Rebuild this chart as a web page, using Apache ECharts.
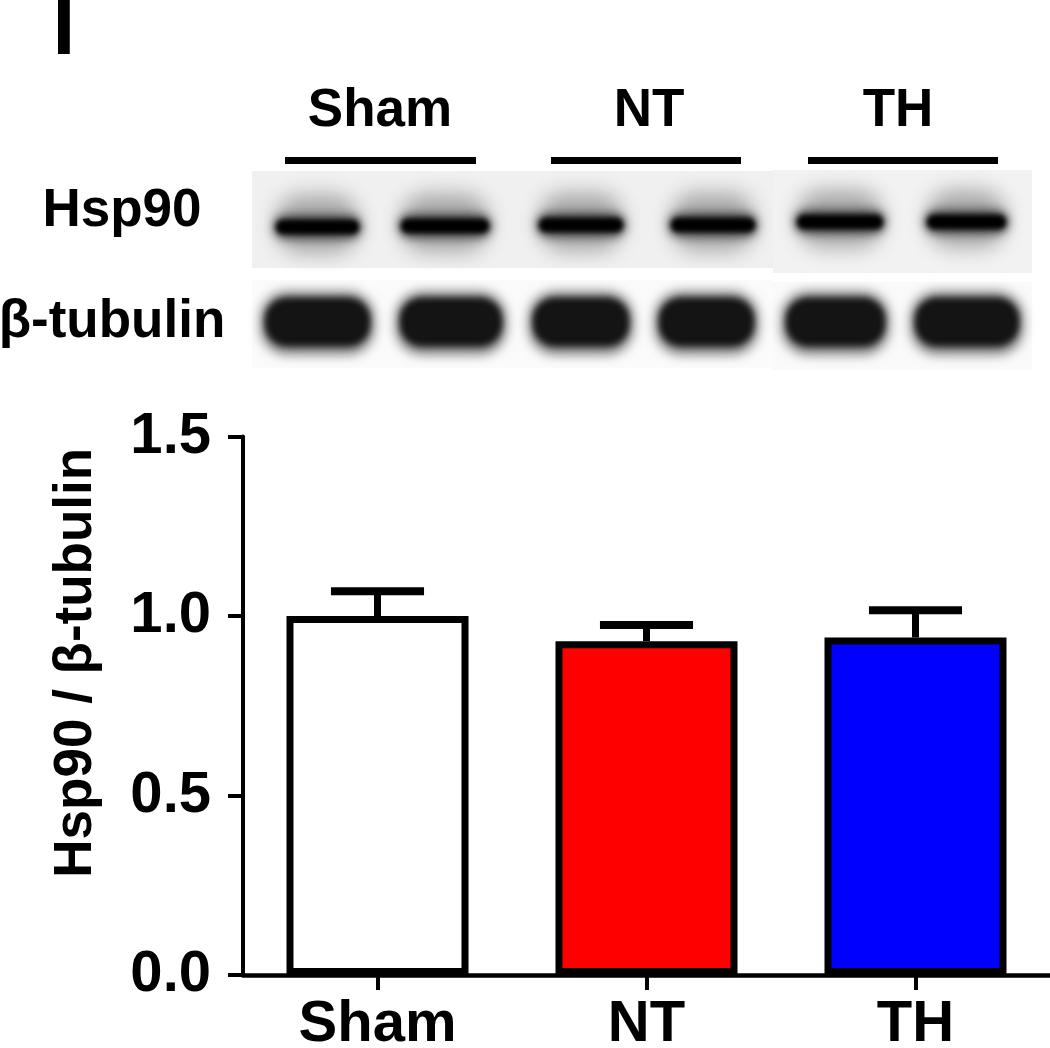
<!DOCTYPE html>
<html>
<head>
<meta charset="utf-8">
<script src="https://cdn.jsdelivr.net/npm/echarts@6/dist/echarts.min.js"></script>
<style>
html,body{margin:0;padding:0;background:#fff;overflow:hidden;}
#chart{width:1050px;height:1048px;}
</style>
</head>
<body>
<div id="chart"></div>
<script>
// ---- data ----
const categories = ['Sham', 'NT', 'TH'];
const meanValues = [1.00, 0.93, 0.94];
const semValues = [0.069, 0.045, 0.076];
const barColors = ['#ffffff', '#ff0000', '#0000ff'];
const yTicks = [0.0, 0.5, 1.0, 1.5];
const blotGroups = ['Sham', 'NT', 'TH'];
const blotRows = ['Hsp90', 'β-tubulin'];
const yTitle = 'Hsp90 / β-tubulin';

const FONT = '"Liberation Sans", Arial, Helvetica, sans-serif';

// ---- blot decoration (image-like) ----
const hspLanes = [[269,366],[394,496],[532,630],[664,762],[790,890],[920,1013]];
const hspY = [227, 226, 225, 225, 222, 222];
const tubLanes = [[259,376],[394,508],[527,635],[653,760],[780,891],[909,1025]];
const groupCenters = [380, 649, 898];
const groupLines = [[285,476],[551,741],[808,998]];
const OFF = 4000;

function blurRect(x, y, w, h, r, color, blur) {
  return {type:'rect', shape:{x:x - OFF, y:y, width:w, height:h, r:r},
    style:{fill:'#000', shadowBlur:blur, shadowColor:color, shadowOffsetX:OFF, shadowOffsetY:0}};
}

const graphics = [];
graphics.push({type:'text', x: 64, y: 31, style:{text:'I', font:'bold 82px ' + FONT, fill:'#000', align:'center', verticalAlign:'middle'}});
blotGroups.forEach((g, i) => {
  graphics.push({type:'text', x: groupCenters[i], y: 111, style:{text:g, font:'bold 53px ' + FONT, fill:'#000', align:'center', verticalAlign:'middle'}});
  graphics.push({type:'rect', shape:{x:groupLines[i][0], y:157, width:groupLines[i][1]-groupLines[i][0], height:7}, style:{fill:'#000'}});
});
graphics.push({type:'text', x:122, y:211, style:{text:blotRows[0], font:'bold 53px ' + FONT, fill:'#000', align:'center', verticalAlign:'middle'}});
graphics.push({type:'text', x:112, y:322, style:{text:blotRows[1], font:'bold 53px ' + FONT, fill:'#000', align:'center', verticalAlign:'middle'}});
graphics.push({type:'rect', shape:{x:252, y:171, width:521, height:97}, style:{fill:'#f0f0f0'}});
graphics.push({type:'rect', shape:{x:773, y:170, width:259, height:103}, style:{fill:'#f2f2f2'}});
graphics.push({type:'rect', shape:{x:252, y:280, width:521, height:88}, style:{fill:'#fbfbfb'}});
graphics.push({type:'rect', shape:{x:773, y:282, width:259, height:88}, style:{fill:'#fafafa'}});
hspLanes.forEach((l, i) => {
  const w = l[1]-l[0], cy = hspY[i];
  graphics.push(blurRect(l[0]+8, cy-32, w-16, 58, 24, 'rgba(0,0,0,0.30)', 20));
  graphics.push(blurRect(l[0]+4, cy-12, w-8, 24, 12, 'rgba(0,0,0,0.6)', 10));
  graphics.push(blurRect(l[0]+7, cy-7, w-14, 14, 7, 'rgba(0,0,0,1)', 5));
});
tubLanes.forEach((l, i) => {
  const w = l[1]-l[0];
  graphics.push(blurRect(l[0]+2, 292, w-4, 62, 26, 'rgba(0,0,0,0.55)', 12));
  graphics.push(blurRect(l[0]+6, 298, w-12, 48, 22, 'rgba(20,20,20,1)', 6));
});

const chart = echarts.init(document.getElementById('chart'), null, {renderer:'canvas', width:1050, height:1048});
chart.setOption({
  animation: false,
  backgroundColor: '#fff',
  grid: {left: 243, width: 807, top: 436.5, height: 538.5, containLabel: false, outerBoundsMode: 'none'},
  xAxis: {
    type: 'category',
    data: categories,
    axisLine: {show: true, lineStyle: {color: '#000', width: 4.5}},
    axisTick: {show: true, alignWithLabel: true, length: 15, lineStyle: {color: '#000', width: 4}},
    axisLabel: {color: '#000', fontFamily: FONT, fontWeight: 'bold', fontSize: 58, margin: 21},
  },
  yAxis: {
    type: 'value',
    min: 0, max: 1.5, interval: 0.5,
    name: yTitle,
    nameLocation: 'middle',
    nameRotate: 90,
    nameGap: 140,
    nameTextStyle: {color: '#000', fontFamily: FONT, fontWeight: 'bold', fontSize: 53, padding: [0,0,0,86]},
    axisLine: {show: true, lineStyle: {color: '#000', width: 4}},
    axisTick: {show: true, length: 15, lineStyle: {color: '#000', width: 4}},
    splitLine: {show: false},
    axisLabel: {color: '#000', fontFamily: FONT, fontWeight: 'bold', fontSize: 58, margin: 32,
      formatter: v => yTicks.includes(v) ? v.toFixed(1) : ''},
  },
  graphic: graphics,
  series: [
    {
      type: 'bar',
      barWidth: 182,
      data: meanValues.map((v, i) => ({value: v, itemStyle: {color: barColors[i], borderColor: '#000', borderWidth: 7}})),
      z: 2
    },
    {
      type: 'custom',
      z: 3,
      data: meanValues.map((v, i) => [i, v, semValues[i]]),
      renderItem: function (params, api) {
        const x = api.value(0), v = api.value(1), e = api.value(2);
        const base = api.coord([x, v]);
        const top = api.coord([x, v + e]);
        const half = api.size([1, 0])[0] * 0.173;
        return {type: 'group', children: [
          {type: 'line', shape: {x1: base[0], y1: base[1], x2: top[0], y2: top[1]}, style: {stroke: '#000', lineWidth: 7}},
          {type: 'line', shape: {x1: top[0] - half, y1: top[1], x2: top[0] + half, y2: top[1]}, style: {stroke: '#000', lineWidth: 8}}
        ]};
      }
    }
  ]
});
</script>
</body>
</html>
